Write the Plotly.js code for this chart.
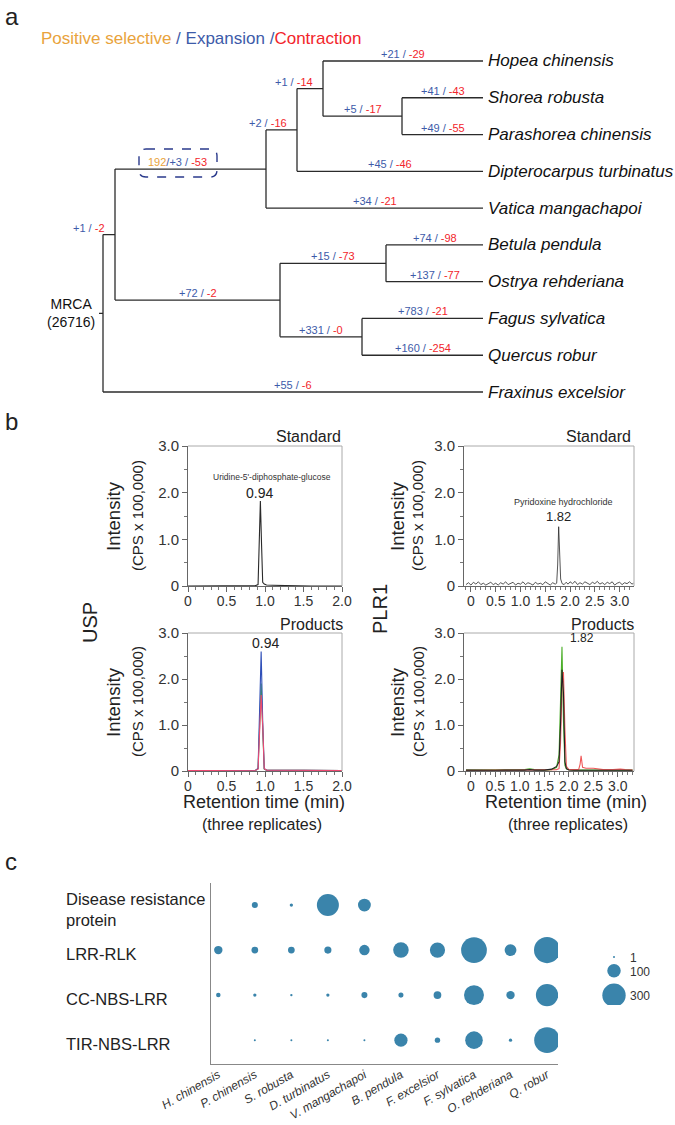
<!DOCTYPE html>
<html><head><meta charset="utf-8">
<script src="https://cdn.plot.ly/plotly-3.0.1.min.js"></script>
<style>html,body{margin:0;padding:0;background:#fff}</style>
</head><body><div id="chart" style="width:675px;height:1125px"></div>
<script>
// ================= DATA =================
// Panel a: phylogenetic tree (gene family expansion / contraction)
const treeNames = ["MRCA","n1","n2","n3","n4","n5","n6","n7","n8",
  "Hopea chinensis","Shorea robusta","Parashorea chinensis","Dipterocarpus turbinatus","Vatica mangachapoi",
  "Betula pendula","Ostrya rehderiana","Fagus sylvatica","Quercus robur","Fraxinus excelsior"];
const treeParent = [-1,0,1,2,3,4,1,6,6, 4,5,5,3,2, 7,7,8,8,0];
const treeDepth  = [0,12,163,194,220,299,177,283,259, 380,380,380,380,380, 380,380,380,380,380];
const treeGain   = [null,1,3,2,1,5,72,15,331, 21,41,49,45,34, 74,137,783,160,55];
const treeLoss   = [null,2,53,16,14,17,2,73,0, 29,43,55,46,21, 98,77,21,254,6];
const treePositive = [null,null,192,null,null,null,null,null,null, null,null,null,null,null, null,null,null,null,null];
const rootGenes = 26716;

// Panel b: chromatograms
const yTickVals = [0,1,2,3];
const yTickText = ["0","1.0","2.0","3.0"];
const xTickValsA = [0,0.5,1,1.5,2];
const xTickTextA = ["0","0.5","1.0","1.5","2.0"];
const xTickValsB = [0,0.5,1,1.5,2,2.5,3];
const xTickTextB = ["0","0.5","1.0","1.5","2.0","2.5","3.0"];

const uspStdX = [0,0.2,0.4,0.6,0.8,0.88,0.91,0.925,0.94,0.955,0.97,0.99,1.02,1.1,1.2,1.4,1.6,1.8,2.0];
const uspStdY = [0,0,0,0,0.005,0.01,0.03,0.9,1.82,0.9,0.08,0.04,0.02,0.015,0.01,0.005,0,0,0];

const uspProdX = [0,0.2,0.4,0.6,0.8,0.88,0.91,0.93,0.95,0.97,0.99,1.02,1.1,1.3,1.5,1.7,1.9,2.0];
const uspProdBlue  = [0.01,0.01,0.01,0.01,0.01,0.015,0.06,1.4,2.6,1.1,0.05,0.02,0.02,0.015,0.01,0.01,0.01,0.01];
const uspProdGreen = [0.01,0.01,0.01,0.01,0.01,0.015,0.05,1.0,1.9,0.9,0.04,0.02,0.02,0.015,0.01,0.01,0.01,0.01];
const uspProdRed   = [0.01,0.01,0.01,0.01,0.01,0.015,0.04,0.8,1.65,1.0,0.05,0.02,0.02,0.015,0.01,0.01,0.01,0.01];

const plrStdX = [-0.1,-0.05,0,0.05,0.1,0.15,0.2,0.25,0.3,0.35,0.4,0.45,0.5,0.55,0.6,0.65,0.7,0.75,0.8,0.85,
  0.9,0.95,1.0,1.05,1.1,1.15,1.2,1.25,1.3,1.35,1.4,1.45,1.5,1.55,1.6,1.65,1.7,1.73,1.75,1.77,
  1.79,1.81,1.84,1.88,1.92,1.96,2.0,2.05,2.1,2.15,2.2,2.25,2.3,2.35,2.4,2.45,2.5,2.55,2.6,2.65,
  2.7,2.75,2.8,2.85,2.9,2.95,3.0,3.05,3.1,3.15,3.2,3.25,3.28];
const plrStdY = [0.03,0.07,0.02,0.08,0.04,0.09,0.03,0.06,0.02,0.05,0.08,0.03,0.06,0.02,0.07,0.04,0.09,0.03,0.05,0.08,
  0.02,0.06,0.04,0.09,0.03,0.07,0.05,0.02,0.08,0.04,0.06,0.03,0.09,0.05,0.02,0.07,0.04,0.06,0.45,1.27,
  0.7,0.15,0.05,0.03,0.08,0.04,0.09,0.05,0.1,0.03,0.07,0.04,0.09,0.06,0.03,0.08,0.05,0.1,0.04,0.07,
  0.03,0.08,0.05,0.09,0.02,0.06,0.08,0.03,0.07,0.05,0.09,0.04,0.06];

const plrProdX = [-0.1,0.1,0.3,0.5,0.7,0.9,1.1,1.2,1.3,1.5,1.65,1.75,1.8,1.83,1.86,1.89,1.92,1.95,2.0,2.1,2.2,2.23,2.25,2.28,2.35,2.5,2.7,2.9,3.05,3.15,3.3];
const plrProdGreen = [0.02,0.02,0.015,0.02,0.015,0.02,0.03,0.05,0.03,0.02,0.03,0.08,0.35,1.5,2.7,1.1,0.12,0.05,0.03,0.02,0.02,0.02,0.02,0.02,0.02,0.03,0.02,0.02,0.03,0.02,0.02];
const plrProdBlack = [0.02,0.015,0.02,0.015,0.02,0.015,0.02,0.03,0.02,0.02,0.04,0.1,0.2,1.0,2.2,1.7,0.2,0.05,0.02,0.015,0.015,0.015,0.015,0.015,0.02,0.02,0.015,0.02,0.03,0.02,0.015];
const plrProdRed   = [0.015,0.02,0.02,0.02,0.02,0.02,0.02,0.02,0.02,0.02,0.02,0.03,0.05,0.6,1.8,2.15,0.9,0.1,0.03,0.03,0.03,0.15,0.33,0.08,0.06,0.06,0.03,0.03,0.04,0.03,0.02];

// Panel c: bubble chart
const bubbleSpecies = ["H. chinensis","P. chinensis","S. robusta","D. turbinatus","V. mangachapoi",
  "B. pendula","F. excelsior","F. sylvatica","O. rehderiana","Q. robur"];
const bubbleFamilies = ["Disease resistance<br>protein","LRR-RLK","CC-NBS-LRR","TIR-NBS-LRR"];
const diseaseResistance = [null,20,6,266,91,null,null,null,null,null];
const lrrRlk            = [39,25,25,28,60,133,127,365,77,375];
const ccNbsLrr          = [11,6,3,6,20,14,33,219,39,274];
const tirNbsLrr         = [null,2,2,2,2,96,16,170,6,362];
const bubbleLegendVals  = [1,100,300];

// ================= STYLE =================
const F = 'Liberation Sans, Arial, Helvetica, sans-serif';
const W = 675, H = 1125;
const PX = v => v / W, PY = v => 1 - v / H;
const BLUE = '#3d5ba9', RED = '#f2252b', ORANGE = '#e9a33c';
const BUB = '#3a84ab';

const traces = [], annotations = [], shapes = [];

// ================= PANEL A: TREE =================
const n = treeNames.length;
const children = Array.from({length:n}, () => []);
treeParent.forEach((p,i) => { if (p >= 0) children[p].push(i); });
const nodeY = new Array(n).fill(null);
let leafRank = 0;
for (let i = 0; i < n; i++) if (children[i].length === 0) nodeY[i] = leafRank++;
function getY(i){
  if (nodeY[i] !== null) return nodeY[i];
  const ys = children[i].map(getY);
  nodeY[i] = (Math.min(...ys) + Math.max(...ys)) / 2;
  return nodeY[i];
}
getY(0);
const lx = [], ly = [];
for (let i = 0; i < n; i++){
  const p = treeParent[i];
  if (p >= 0){ lx.push(treeDepth[p], treeDepth[i], null); ly.push(nodeY[i], nodeY[i], null); }
  if (children[i].length){
    const ys = children[i].map(c => nodeY[c]);
    lx.push(treeDepth[i], treeDepth[i], null); ly.push(Math.min(...ys), Math.max(...ys), null);
  }
}
lx.push(treeDepth[0]-4, treeDepth[0], null); ly.push(nodeY[0], nodeY[0], null);
traces.push({type:'scatter', mode:'lines', x:lx, y:ly, xaxis:'x', yaxis:'y',
  line:{color:'#2b2b2b', width:1.3}, hoverinfo:'skip', connectgaps:false});

for (let i = 1; i < n; i++){
  const p = treeParent[i];
  const len = treeDepth[i] - treeDepth[p];
  let txt = '';
  if (treePositive[i] !== null){
    txt = `<span style="color:${ORANGE}">${treePositive[i]}</span><span style="color:${BLUE}">/+${treeGain[i]} / </span><span style="color:${RED}">-${treeLoss[i]}</span>`;
  } else {
    txt = `<span style="color:${BLUE}">+${treeGain[i]} / </span><span style="color:${RED}">-${treeLoss[i]}</span>`;
  }
  const short = len < 50;
  const ax = short ? treeDepth[i] - 8 : (treeDepth[p] + treeDepth[i]) / 2;
  annotations.push({xref:'x', yref:'y', x:ax, y:nodeY[i], text:txt, showarrow:false,
    xanchor: short ? 'right' : 'center', yanchor:'middle', yshift:7,
    xshift: treePositive[i] !== null ? -13 : 0,
    font:{family:F, size:11}});
  if (treePositive[i] !== null){
    const x0=-51.5, x1=26.5, y0=-8, y1=20, r=7;
    shapes.push({type:'path', xref:'x', yref:'y', xsizemode:'pixel', ysizemode:'pixel',
      xanchor:ax, yanchor:nodeY[i],
      path:`M ${x0+r},${y1} L ${x1-r},${y1} Q ${x1},${y1} ${x1},${y1-r} L ${x1},${y0+r} Q ${x1},${y0} ${x1-r},${y0} L ${x0+r},${y0} Q ${x0},${y0} ${x0},${y0+r} L ${x0},${y1-r} Q ${x0},${y1} ${x0+r},${y1} Z`,
      line:{color:'#2a3a8c', width:1.4, dash:'dash'}});
  }
  if (children[i].length === 0){
    annotations.push({xref:'x', yref:'y', x:treeDepth[i], y:nodeY[i], text:treeNames[i], showarrow:false,
      xanchor:'left', yanchor:'middle', xshift:3, font:{family:F, size:17, style:'italic', color:'#111'}});
  }
}
annotations.push({xref:'x', yref:'y', x:treeDepth[0]-6, y:nodeY[0], text:`MRCA<br>(${rootGenes})`,
  showarrow:false, xanchor:'right', yanchor:'middle', align:'center', font:{family:F, size:14, color:'#111'}});
annotations.push({xref:'paper', yref:'paper', x:PX(39), y:PY(38), xanchor:'left', yanchor:'middle', showarrow:false,
  text:`<span style="color:${ORANGE}">Positive selective</span><span style="color:${BLUE}"> / Expansion /</span><span style="color:${RED}">Contraction</span>`,
  font:{family:F, size:17}});

// ================= PANEL B: CHROMATOGRAMS =================
function lineTrace(x, y, color, xa, ya, w){
  return {type:'scatter', mode:'lines', x, y, xaxis:xa, yaxis:ya, line:{color, width:w||1.1}, hoverinfo:'skip'};
}
traces.push(lineTrace(uspStdX, uspStdY, '#2a2a2a', 'x2', 'y2', 1.1));
traces.push(lineTrace(plrStdX, plrStdY, '#2a2a2a', 'x3', 'y3', 0.8));
traces.push(lineTrace(uspProdX, uspProdGreen, '#3fae3a', 'x4', 'y4'));
traces.push(lineTrace(uspProdX, uspProdBlue, '#2f4fb8', 'x4', 'y4'));
traces.push(lineTrace(uspProdX, uspProdRed, '#ee4a72', 'x4', 'y4'));
traces.push(lineTrace(plrProdX, plrProdGreen, '#4caf2a', 'x5', 'y5'));
traces.push(lineTrace(plrProdX, plrProdRed, '#f05a5a', 'x5', 'y5'));
traces.push(lineTrace(plrProdX, plrProdBlack, '#222222', 'x5', 'y5'));

function chromX(dom, range, anchor, vals, labels){
  return {domain:dom, range, anchor, tickmode:'array', tickvals:vals, ticktext:labels,
    ticks:'outside', ticklen:5, tickwidth:1, tickcolor:'#666', showline:true, linecolor:'#666', linewidth:1,
    showgrid:false, zeroline:false, tickfont:{family:F, size:14, color:'#333'}, ticklabelstandoff:-3,
    minor:{tickmode:'linear', tick0:0, dtick:0.1, ticks:'outside', ticklen:3, tickcolor:'#777', showgrid:false},
    fixedrange:true};
}
function chromY(dom, anchor){
  return {domain:dom, range:[0,3], anchor, tickmode:'array', tickvals:yTickVals, ticktext:yTickText,
    ticks:'outside', ticklen:5, tickwidth:1, tickcolor:'#666', showline:true, linecolor:'#666', linewidth:1,
    showgrid:false, zeroline:false, tickfont:{family:F, size:15, color:'#333'},
    minor:{tickmode:'linear', tick0:0, dtick:0.5, ticks:'outside', ticklen:3, tickcolor:'#777', showgrid:false},
    fixedrange:true};
}
const domXL = [PX(188), PX(342)], domXR = [PX(464), PX(634)];
const domYT = [PY(586), PY(446)], domYB = [PY(771), PY(633)];

['2','3','4','5'].forEach(k => {
  shapes.push({type:'line', xref:`x${k} domain`, yref:`y${k} domain`, x0:0, x1:1, y0:1, y1:1, line:{color:'#aaa', width:1}});
  shapes.push({type:'line', xref:`x${k} domain`, yref:`y${k} domain`, x0:1, x1:1, y0:0, y1:1, line:{color:'#aaa', width:1}});
});

function pann(text, x, y, size, opts){
  annotations.push(Object.assign({xref:'paper', yref:'paper', x:PX(x), y:PY(y), text, showarrow:false,
    xanchor:'center', yanchor:'middle', font:{family:F, size, color:'#222'}}, opts||{}));
}
pann('a', 3, 16, 24, {xanchor:'left'});
pann('b', 3, 421, 24, {xanchor:'left'});
pann('c', 3, 861, 24, {xanchor:'left'});

pann('Standard', 343, 437, 16, {xanchor:'right'});
pann('Standard', 633, 437, 16, {xanchor:'right'});
pann('Products', 345, 624, 16, {xanchor:'right'});
pann('Products', 636, 624, 16, {xanchor:'right'});

pann("Uridine-5'-diphosphate-glucose", 272, 477, 8.5, {font:{family:F, size:8.5, color:'#333'}});
pann('0.94', 259, 493, 14);
pann('Pyridoxine hydrochloride', 563, 502, 9, {font:{family:F, size:9, color:'#333'}});
pann('1.82', 558, 517, 13);
pann('0.94', 265, 643, 14);
pann('1.82', 582, 638, 12);

[[113,137,516],[397,417,516],[113,137,702],[397,418,702]].forEach(([a,b,y]) => {
  pann('Intensity', a, y, 18.5, {textangle:-90});
  pann('(CPS x 100,000)', b, y, 15, {textangle:-90});
});
pann('Retention time (min)', 264, 802, 18);
pann('Retention time (min)', 566, 802, 18);
pann('(three replicates)', 262, 825, 16);
pann('(three replicates)', 568, 825, 16);
pann('USP', 90, 623, 20, {textangle:-90});
pann('PLR1', 380, 609, 20, {textangle:-90});

// ================= PANEL C: BUBBLES =================
const SIZEREF = 1.1;
const rows = [diseaseResistance, lrrRlk, ccNbsLrr, tirNbsLrr];
const bx = [], by = [], bs = [];
rows.forEach((row, r) => row.forEach((v, c) => { if (v !== null){ bx.push(c); by.push(r); bs.push(v); } }));
traces.push({type:'scatter', mode:'markers', x:bx, y:by, xaxis:'x6', yaxis:'y6', hoverinfo:'skip',
  marker:{size:bs, sizemode:'area', sizeref:SIZEREF, sizemin:1, color:BUB, opacity:1, line:{width:0}}});
bubbleFamilies.forEach((f, r) => {
  annotations.push({xref:'paper', yref:'y6', x:PX(64), y:r, yshift:-4, text:f, showarrow:false,
    xanchor:'left', yanchor:'middle', align:'left', font:{family:F, size:16.5, color:'#222'}});
});
// size legend
const diam = v => 2 * Math.max(Math.sqrt(v / 2 / SIZEREF), 1);
const legY = []; let cur = 12;
bubbleLegendVals.forEach((v, i) => {
  if (i > 0) cur += (diam(bubbleLegendVals[i-1]) + diam(v)) / 2 + 6;
  legY.push(cur);
});
traces.push({type:'scatter', mode:'markers', x:bubbleLegendVals.map(() => 14), y:legY, xaxis:'x7', yaxis:'y7',
  hoverinfo:'skip', marker:{size:bubbleLegendVals, sizemode:'area', sizeref:SIZEREF, sizemin:1, color:BUB, opacity:1, line:{width:0}}});
traces.push({type:'scatter', mode:'text', x:bubbleLegendVals.map(() => 30), y:legY.map(v => v + 2), xaxis:'x7', yaxis:'y7',
  hoverinfo:'skip', text:bubbleLegendVals.map(String), textposition:'middle right',
  textfont:{family:F, size:12, color:'#333'}});

const layout = {
  width:W, height:H, margin:{l:0, r:0, t:0, b:0}, paper_bgcolor:'#fff', plot_bgcolor:'rgba(0,0,0,0)',
  showlegend:false, font:{family:F, color:'#222'},
  xaxis:{domain:[0,1], range:[-103, 572], visible:false, fixedrange:true},
  yaxis:{domain:[PY(410.4), PY(42.6)], range:[9.5, -0.5], visible:false, fixedrange:true},
  xaxis2:chromX(domXL, [0, 2.0], 'y2', xTickValsA, xTickTextA),
  yaxis2:chromY(domYT, 'x2'),
  xaxis3:chromX(domXR, [-0.14, 3.29], 'y3', xTickValsB, xTickTextB),
  yaxis3:chromY(domYT, 'x3'),
  xaxis4:chromX(domXL, [0, 2.0], 'y4', xTickValsA, xTickTextA),
  yaxis4:chromY(domYB, 'x4'),
  xaxis5:chromX(domXR, [-0.14, 3.33], 'y5', xTickValsB, xTickTextB),
  yaxis5:chromY(domYB, 'x5'),
  xaxis6:{domain:[PX(211), PX(558)], range:[-0.2, 9.3], anchor:'y6', tickmode:'array',
    tickvals:bubbleSpecies.map((s,i) => i), ticktext:bubbleSpecies, tickangle:-30, ticks:'',
    showline:true, linecolor:'#888', linewidth:1.2, showgrid:false, zeroline:false, ticklabelstandoff:-2,
    tickfont:{family:F, size:12, style:'italic', color:'#333'}, fixedrange:true},
  yaxis6:{domain:[PY(1064), PY(883)], range:[3.53, -0.49], anchor:'x6', showticklabels:false, ticks:'',
    showline:true, linecolor:'#888', linewidth:1.2, showgrid:false, zeroline:false, fixedrange:true},
  xaxis7:{domain:[PX(600), PX(675)], range:[0, 75], anchor:'y7', visible:false, fixedrange:true},
  yaxis7:{domain:[PY(1005), PY(945)], range:[60, 0], anchor:'x7', visible:false, fixedrange:true},
  annotations, shapes
};
Plotly.newPlot('chart', traces, layout, {displayModeBar:false, staticPlot:true});
</script></body></html>
